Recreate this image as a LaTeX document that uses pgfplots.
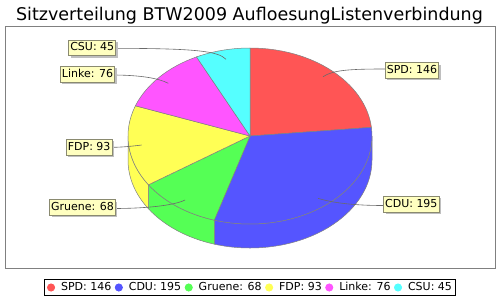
\documentclass[border=0pt]{standalone}
\usepackage{fontspec}
\setmainfont{DejaVu Sans}
\usepackage{pgfplots}
\pgfplotsset{compat=1.18}
\usepackage{pgfplotstable}
\usetikzlibrary{shadows}

\definecolor{cSPD}{HTML}{FF5555}
\definecolor{cCDU}{HTML}{5555FF}
\definecolor{cGruene}{HTML}{55FF55}
\definecolor{cFDP}{HTML}{FFFF55}
\definecolor{cLinke}{HTML}{FF55FF}
\definecolor{cCSU}{HTML}{55FFFF}
\definecolor{edge}{HTML}{808080}
\definecolor{lblfill}{HTML}{FFFFC0}
\definecolor{lbldraw}{HTML}{8A8A70}
\definecolor{leader}{HTML}{6A6A6A}

\pgfplotstableread{
party seats
SPD 146
CDU 195
Gruene 68
FDP 93
Linke 76
CSU 45
}\seats

\begin{document}
\begin{tikzpicture}[
  lbl/.style={fill=lblfill, draw=lbldraw, line width=0.6bp,
    font=\fontsize{11bp}{13bp}\selectfont, inner xsep=1.5bp, inner ysep=2.5bp,
    text height=8.5bp, text depth=2.3bp,
    drop shadow={shadow xshift=2bp, shadow yshift=-2bp, fill=black!25, opacity=1}},
  ld/.style={draw=leader, line width=0.6bp},
  er/.style={x radius=122bp, y radius=88bp}
]
\pgfplotstablegetelem{0}{seats}\of\seats \let\vA\pgfplotsretval
\pgfplotstablegetelem{1}{seats}\of\seats \let\vB\pgfplotsretval
\pgfplotstablegetelem{2}{seats}\of\seats \let\vC\pgfplotsretval
\pgfplotstablegetelem{3}{seats}\of\seats \let\vD\pgfplotsretval
\pgfplotstablegetelem{4}{seats}\of\seats \let\vE\pgfplotsretval
\pgfplotstablegetelem{5}{seats}\of\seats \let\vF\pgfplotsretval
\pgfmathsetmacro\tot{\vA+\vB+\vC+\vD+\vE+\vF}
\pgfmathsetmacro\aA{90}
\pgfmathsetmacro\aB{\aA-360*(\vA/\tot)}
\pgfmathsetmacro\aC{\aB-360*(\vB/\tot)}
\pgfmathsetmacro\aD{\aC-360*(\vC/\tot)}
\pgfmathsetmacro\aE{\aD-360*(\vD/\tot)}
\pgfmathsetmacro\aF{\aE-360*(\vE/\tot)}
\pgfmathsetmacro\aG{-270}
\begin{axis}[
  scale only axis, width=500bp, height=300bp,
  xmin=0, xmax=500, ymin=0, ymax=300, y dir=reverse,
  hide axis, clip=false,
  legend columns=-1,
  legend image code/.code={\fill[#1] (0bp,0bp) circle (3.6bp);},
  legend style={at={(axis cs:250,287.5)}, anchor=center, draw=black, line width=0.8bp,
    font=\fontsize{11bp}{13bp}\selectfont, inner xsep=2.5bp, inner ysep=1.5bp,
    /tikz/every even column/.append style={column sep=2.5bp},
    /tikz/every odd column/.append style={column sep=5bp},
    nodes={inner sep=1bp, text height=8.5bp, text depth=2.3bp}},
]
\fill[white] (axis cs:0,0) rectangle (axis cs:500,300);
\node[font=\fontsize{17.5bp}{20bp}\selectfont, anchor=base] at (axis cs:249.5,20.7) {Sitzverteilung BTW2009 AufloesungListenverbindung};
\draw[edge, line width=0.8bp] (axis cs:5.5,26.8) rectangle (axis cs:495.3,268.8);

% sides
\filldraw[fill=cCDU, draw=edge, line width=0.5bp] (axis cs:250,136) ++(0:122bp and 88bp)
  arc[er, start angle=0, end angle=\aC] -- ++(0,-24bp)
  arc[er, start angle=\aC, end angle=0] -- cycle;
\filldraw[fill=cGruene, draw=edge, line width=0.5bp] (axis cs:250,136) ++(\aC:122bp and 88bp)
  arc[er, start angle=\aC, end angle=\aD] -- ++(0,-24bp)
  arc[er, start angle=\aD, end angle=\aC] -- cycle;
\filldraw[fill=cFDP, draw=edge, line width=0.5bp] (axis cs:250,136) ++(\aD:122bp and 88bp)
  arc[er, start angle=\aD, end angle=-180] -- ++(0,-24bp)
  arc[er, start angle=-180, end angle=\aD] -- cycle;

% tops
\filldraw[fill=cSPD, draw=edge, line width=0.5bp] (axis cs:250,136) -- ++(\aA:122bp and 88bp)
  arc[er, start angle=\aA, end angle=\aB] -- cycle;
\filldraw[fill=cCDU, draw=edge, line width=0.5bp] (axis cs:250,136) -- ++(\aB:122bp and 88bp)
  arc[er, start angle=\aB, end angle=\aC] -- cycle;
\filldraw[fill=cGruene, draw=edge, line width=0.5bp] (axis cs:250,136) -- ++(\aC:122bp and 88bp)
  arc[er, start angle=\aC, end angle=\aD] -- cycle;
\filldraw[fill=cFDP, draw=edge, line width=0.5bp] (axis cs:250,136) -- ++(\aD:122bp and 88bp)
  arc[er, start angle=\aD, end angle=\aE] -- cycle;
\filldraw[fill=cLinke, draw=edge, line width=0.5bp] (axis cs:250,136) -- ++(\aE:122bp and 88bp)
  arc[er, start angle=\aE, end angle=\aF] -- cycle;
\filldraw[fill=cCSU, draw=edge, line width=0.5bp] (axis cs:250,136) -- ++(\aF:122bp and 88bp)
  arc[er, start angle=\aF, end angle=\aG] -- cycle;

% leader lines
\draw[ld] (axis cs:323,76.7) .. controls (axis cs:333,70) and (axis cs:350,69) .. (axis cs:385,69);
\draw[ld] (axis cs:318,198.3) .. controls (axis cs:333,203) and (axis cs:355,205.5) .. (axis cs:383.3,205.5);
\draw[ld] (axis cs:185,200) .. controls (axis cs:175,205) and (axis cs:150,208.3) .. (axis cs:115.7,208.5);
\draw[ld] (axis cs:141.7,145) .. controls (axis cs:130,146.5) and (axis cs:120,147.3) .. (axis cs:112.3,147.3);
\draw[ld] (axis cs:168.3,83.3) .. controls (axis cs:158,78) and (axis cs:140,75.3) .. (axis cs:115,75);
\draw[ld] (axis cs:226,59.3) .. controls (axis cs:218,51) and (axis cs:195,48.5) .. (axis cs:116,48.3);

% labels
\node[lbl, anchor=west] at (axis cs:385,70.5) {SPD: \vA};
\node[lbl, anchor=west] at (axis cs:383.3,204) {CDU: \vB};
\node[lbl, anchor=east] at (axis cs:115.7,207.5) {Gruene: \vC};
\node[lbl, anchor=east] at (axis cs:112.3,147) {FDP: \vD};
\node[lbl, anchor=east] at (axis cs:115,74) {Linke: \vE};
\node[lbl, anchor=east] at (axis cs:116,47.8) {CSU: \vF};

\addlegendimage{cSPD}\addlegendentry{SPD: \vA}
\addlegendimage{cCDU}\addlegendentry{CDU: \vB}
\addlegendimage{cGruene}\addlegendentry{Gruene: \vC}
\addlegendimage{cFDP}\addlegendentry{FDP: \vD}
\addlegendimage{cLinke}\addlegendentry{Linke: \vE}
\addlegendimage{cCSU}\addlegendentry{CSU: \vF}
\end{axis}
\end{tikzpicture}
\end{document}
